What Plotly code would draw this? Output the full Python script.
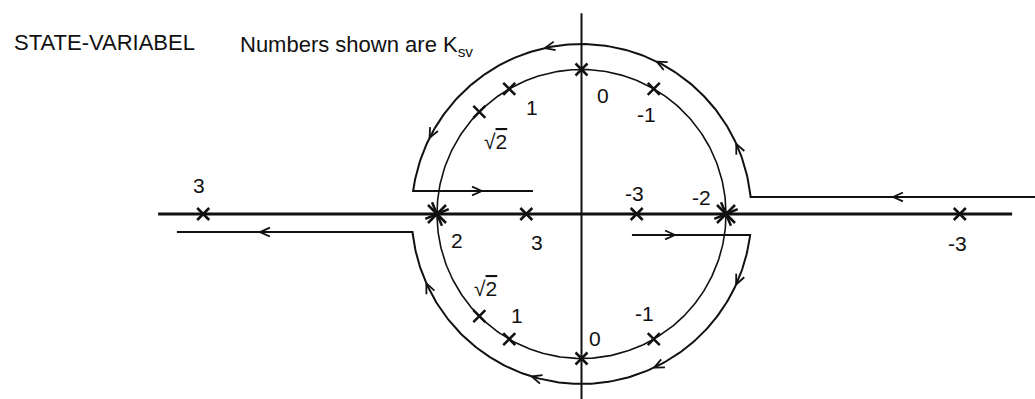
import numpy as np
import plotly.graph_objects as go

# Closed-loop poles of s^2 + K s + 1 = 0 for the labelled gains K_sv
gains = [0.0, -1.0, 1.0, np.sqrt(2.0), 2.0, -2.0, 3.0, -3.0]
gain_labels = ["0", "-1", "1", "√<span style=\"text-decoration:overline\">2</span>",
               "2", "-2", "3", "-3"]

# Label offsets (pixels) for each root, upper/first root then lower/second root
label_offsets = [
    [(21, -26), (13, 20)],
    [(-7, -26), (-9, 26)],
    [(23, -19), (8, 24)],
    [(16, -30), (6, 28)],
    [(20, -26)],
    [(-25, 17)],
    [(-4, 29), (11, -28)],
    [(-2, 21), (-2, -29)],
]

# Encirclement contour: outer radius, corner heights, and line ends
outer_radius = 1.176
upper_right_y, upper_left_y = 0.118, 0.159
lower_right_y, lower_left_y = -0.145, -0.125
upper_right_end, upper_left_end = 3.14, -0.336
lower_right_start, lower_left_end = 0.349, -2.80

# Direction arrows on the contour (angles in degrees / positions on the lines)
upper_arc_arrows = [24.4, 63.7, 102.4, 153.4]
lower_arc_arrows = [-24.5, -64.7, -107.0, -155.9]

# Axis extents
x_axis_span = (-2.93, 2.98)
y_axis_span = (-1.30, 1.39)

BLACK = "#111111"
FONT = "Liberation Sans, Arial, sans-serif"
fig = go.Figure()

# Real and imaginary axes
fig.add_trace(go.Scatter(x=list(x_axis_span), y=[0, 0], mode="lines",
                         line=dict(color=BLACK, width=3), hoverinfo="skip"))
fig.add_trace(go.Scatter(x=[0, 0], y=list(y_axis_span), mode="lines",
                         line=dict(color=BLACK, width=2), hoverinfo="skip"))

# Unit circle traced by the complex roots
th = np.linspace(0, 2 * np.pi, 400)
fig.add_trace(go.Scatter(x=np.cos(th), y=np.sin(th), mode="lines",
                         line=dict(color=BLACK, width=1.6), hoverinfo="skip"))

# Upper half of the contour
a0 = np.arcsin(upper_right_y / outer_radius)
a1 = np.pi - np.arcsin(upper_left_y / outer_radius)
ang = np.linspace(a0, a1, 200)
ux = [upper_right_end] + list(outer_radius * np.cos(ang)) + [upper_left_end]
uy = [upper_right_y] + list(outer_radius * np.sin(ang)) + [upper_left_y]
fig.add_trace(go.Scatter(x=ux, y=uy, mode="lines",
                         line=dict(color=BLACK, width=2), hoverinfo="skip"))

# Lower half of the contour
b0 = np.arcsin(lower_right_y / outer_radius)
b1 = -np.pi - np.arcsin(lower_left_y / outer_radius)
ang = np.linspace(b0, b1, 200)
lx = [lower_right_start] + list(outer_radius * np.cos(ang)) + [lower_left_end]
ly = [lower_right_y] + list(outer_radius * np.sin(ang)) + [lower_left_y]
fig.add_trace(go.Scatter(x=lx, y=ly, mode="lines",
                         line=dict(color=BLACK, width=2), hoverinfo="skip"))


def barbs(tx, ty, dx, dy, length=0.075, half=np.radians(24)):
    n = np.hypot(dx, dy)
    dx, dy = dx / n, dy / n
    pts = []
    for s in (half, -half):
        c, si = np.cos(s), np.sin(s)
        rx, ry = dx * c - dy * si, dx * si + dy * c
        pts.append((tx - length * rx, ty - length * ry))
    return [pts[0][0], tx, pts[1][0], None], [pts[0][1], ty, pts[1][1], None]


ax, ay = [], []
for deg in upper_arc_arrows:
    t = np.radians(deg)
    bx, by = barbs(outer_radius * np.cos(t), outer_radius * np.sin(t), -np.sin(t), np.cos(t))
    ax += bx; ay += by
for deg in lower_arc_arrows:
    t = np.radians(deg)
    bx, by = barbs(outer_radius * np.cos(t), outer_radius * np.sin(t), np.sin(t), -np.cos(t))
    ax += bx; ay += by
# Arrows on the straight runs
for (px, py, d) in [(2.156, upper_right_y, -1), (-0.689, upper_left_y, 1),
                    (0.647, lower_right_y, 1), (-2.225, lower_left_y, -1)]:
    bx, by = barbs(px, py, d, 0)
    ax += bx; ay += by
fig.add_trace(go.Scatter(x=ax, y=ay, mode="lines",
                         line=dict(color=BLACK, width=1.8), hoverinfo="skip"))

# Roots for every gain, with labels
single_x, single_y, double_x, double_y = [], [], [], []
annotations = []
for k, lab, offs in zip(gains, gain_labels, label_offsets):
    r = np.roots([1.0, k, 1.0])
    r = sorted(r, key=lambda z: (-z.imag, z.real))
    if abs(k) == 2.0:
        r = [r[0]]
        double_x.append(r[0].real); double_y.append(0.0)
    else:
        if abs(k) > 2.0:
            r = sorted(r, key=lambda z: z.real)
        for z in r:
            single_x.append(z.real); single_y.append(z.imag)
    for z, (ox, oy) in zip(r, offs):
        annotations.append(dict(x=z.real, y=z.imag, xref="x", yref="y",
                                text=lab, showarrow=False, xshift=ox, yshift=oy,
                                xanchor="center", yanchor="middle",
                                font=dict(size=21, color=BLACK, family=FONT)))

fig.add_trace(go.Scatter(x=single_x, y=single_y, mode="markers",
                         marker=dict(symbol="x-thin-open", size=12, color=BLACK,
                                     line=dict(color=BLACK, width=2.5)),
                         hoverinfo="skip"))
for rot in (0, 22):
    fig.add_trace(go.Scatter(x=double_x, y=double_y, mode="markers",
                             marker=dict(symbol="x-thin-open", size=18, angle=rot, color=BLACK,
                                         line=dict(color=BLACK, width=2.5)),
                             hoverinfo="skip"))

annotations.append(dict(x=12 / 1035, y=1 - 42 / 399, xref="paper", yref="paper",
                        text="STATE-VARIABEL", showarrow=False,
                        xanchor="left", yanchor="middle",
                        font=dict(size=22, color=BLACK, family=FONT)))
annotations.append(dict(x=238 / 1035, y=1 - 46 / 399, xref="paper", yref="paper",
                        text="Numbers shown are K<sub>sv</sub>", showarrow=False,
                        xanchor="left", yanchor="middle",
                        font=dict(size=22, color=BLACK, family=FONT)))

scale = 144.5
cx, cy = 581.5, 214.0
fig.update_layout(
    width=1035, height=399,
    margin=dict(l=0, r=0, t=0, b=0),
    paper_bgcolor="white", plot_bgcolor="white",
    showlegend=False,
    annotations=annotations,
    xaxis=dict(visible=False, range=[-cx / scale, (1035 - cx) / scale]),
    yaxis=dict(visible=False, range=[-(399 - cy) / scale, cy / scale]),
)

fig.write_html("out.html")
